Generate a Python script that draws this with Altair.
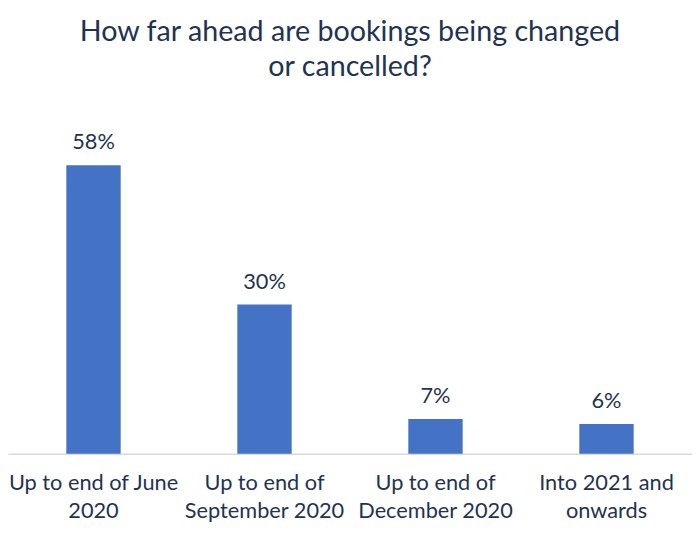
import altair as alt
import pandas as pd

categories = ["Up to end of June|2020", "Up to end of|September 2020",
              "Up to end of|December 2020", "Into 2021 and|onwards"]
values = [58, 30, 7, 6]

df = pd.DataFrame({"category": categories, "value": values})

TEXT = "#1F3354"
FONT = "Lato"

base = alt.Chart(df).transform_calculate(label="datum.value + '%'")

x = alt.X("category:N", sort=categories, title=None,
          scale=alt.Scale(paddingInner=0, paddingOuter=0),
          axis=alt.Axis(labelExpr="split(datum.value, '|')", labelAngle=0,
                        ticks=False, domainColor="#D9D9D9", domainWidth=1.5,
                        labelFont=FONT, labelFontSize=22, labelColor=TEXT,
                        labelPadding=19, labelLineHeight=28, labelBaseline="top"))
y = alt.Y("value:Q", scale=alt.Scale(domain=[0, 70.3], nice=False, zero=True),
          axis=None, title=None)

bars = base.mark_bar(size=55, color="#4472C4").encode(x=x, y=y)
texts = base.mark_text(baseline="bottom", dy=-11, font=FONT, fontSize=22,
                       color=TEXT).encode(x=alt.X("category:N", sort=categories), y=y,
                                          text="label:N")

chart = (bars + texts).properties(
    width=692, height=354,
    autosize=alt.AutoSizeParams(type="none"),
    padding={"left": 0, "right": 0, "top": 94, "bottom": 70},
    title=alt.TitleParams(["How far ahead are bookings being changed", "or cancelled?"],
                          font=FONT, fontSize=29, fontWeight="normal", color=TEXT,
                          lineHeight=36, anchor="middle", offset=22),
).configure_view(stroke=None)

chart.save("out.html", embed_options={"renderer": "svg", "actions": False})
